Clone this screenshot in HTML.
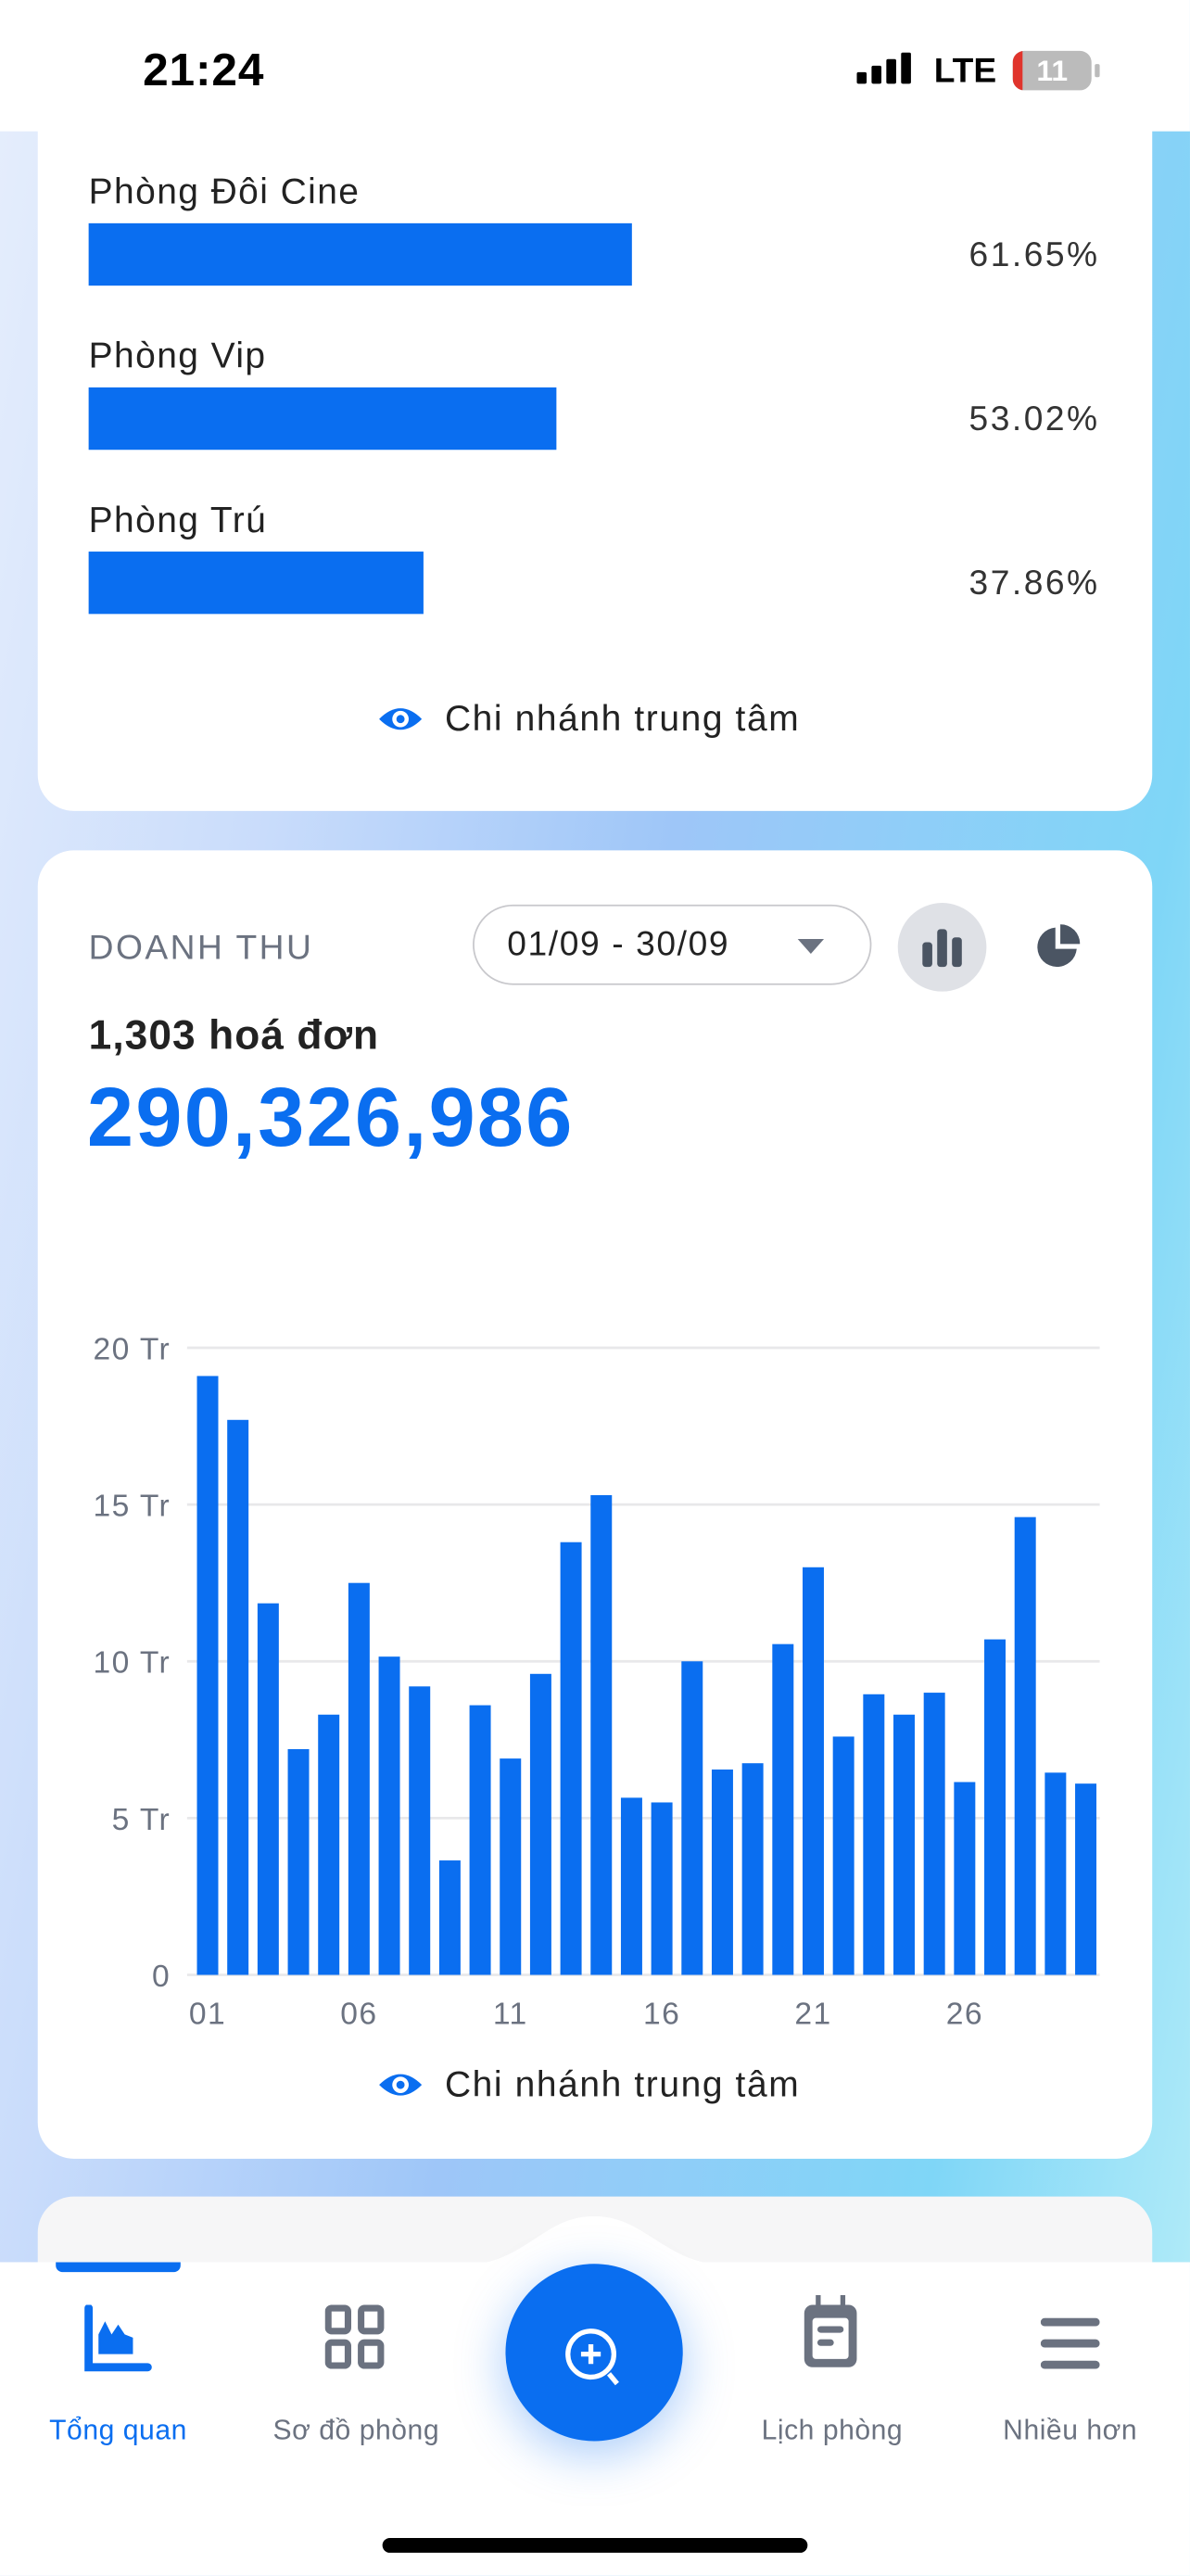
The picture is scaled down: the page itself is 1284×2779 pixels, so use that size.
<!DOCTYPE html>
<html><head><meta charset="utf-8">
<style>
html,body{margin:0;padding:0;width:1284px;height:2778px;overflow:hidden;background:#fff;}
#root{position:absolute;left:0;top:0;width:725px;height:1569px;transform:scale(1.771);transform-origin:0 0;font-family:"Liberation Sans",sans-serif;overflow:hidden;
background:linear-gradient(100deg,#e6eefc 0%,#c9dcfb 25%,#9ec6f8 50%,#7fd6f7 80%,#b8eef8 100%);}
.abs{position:absolute;}
.card{position:absolute;left:23px;width:679px;background:#fff;border-radius:22px;}
.lbl{font-size:22px;color:#222;letter-spacing:0.8px;}
.pct{font-size:21px;color:#333;right:32px;text-align:right;letter-spacing:1.4px;}
.bar{background:#0a6ef0;height:38px;left:31px;}
.nav-l{font-size:17px;color:#6b7280;text-align:center;width:140px;letter-spacing:0.3px;}
.leg{font-size:22px;color:#222;letter-spacing:0.9px;}
</style></head><body>
<div id="root">
  <div class="abs" style="left:0;top:0;width:725px;height:80px;background:#fff">
    <div class="abs" style="left:87px;top:27px;font-size:28px;font-weight:bold;color:#000;letter-spacing:0.5px">21:24</div>
    <div class="abs" style="left:522px;top:32px;width:38px;height:22px">
      <svg width="38" height="22"><g fill="#000"><rect x="0" y="12" width="6" height="7" rx="1"/><rect x="9" y="8" width="6" height="11" rx="1"/><rect x="18" y="4" width="6" height="15" rx="1"/><rect x="27" y="0" width="6" height="19" rx="1"/></g></svg>
    </div>
    <div class="abs" style="left:569px;top:32px;font-size:21px;font-weight:bold;color:#000">LTE</div>
    <div class="abs" style="left:617px;top:31px;width:48px;height:24px;border-radius:7px;background:#bbb;overflow:hidden">
      <div class="abs" style="left:0;top:0;width:6px;height:24px;background:#e0342c"></div>
      <div class="abs" style="left:0;top:2px;width:48px;text-align:center;font-size:18px;font-weight:bold;color:#fff">11</div>
    </div>
    <div class="abs" style="left:667px;top:39px;width:3px;height:8px;background:#bbb;border-radius:1px"></div>
  </div>

  <div class="card" style="top:58px;height:436px;z-index:0">
    <div class="abs lbl" style="left:31px;top:46px">Phòng Đôi Cine</div>
    <div class="abs bar" style="top:78px;width:331px"></div>
    <div class="abs pct" style="top:86px">61.65%</div>
    <div class="abs lbl" style="left:31px;top:146px">Phòng Vip</div>
    <div class="abs bar" style="top:178px;width:285px"></div>
    <div class="abs pct" style="top:186px">53.02%</div>
    <div class="abs lbl" style="left:31px;top:246px">Phòng Trú</div>
    <div class="abs bar" style="top:278px;width:204px"></div>
    <div class="abs pct" style="top:286px">37.86%</div>
    <div class="abs leg" style="left:207px;top:367px">
      <svg width="28" height="18" style="vertical-align:-2px;margin-right:13px"><path d="M1 9 Q14 -4 27 9 Q14 22 1 9Z" fill="#0a6ef0"/><circle cx="14" cy="9" r="5" fill="#fff"/><circle cx="14" cy="9" r="2.5" fill="#0a6ef0"/></svg>Chi nhánh trung tâm
    </div>
  </div>

  <div class="card" style="top:518px;height:797px">
    <div class="abs" style="left:31px;top:48px;font-size:21px;color:#6b7280;letter-spacing:1.4px">DOANH THU</div>
    <div class="abs" style="left:265px;top:33px;width:241px;height:47px;border:1.5px solid #c8c8cc;border-radius:25px">
      <div class="abs" style="left:20px;top:12px;font-size:21px;color:#222;letter-spacing:0.9px">01/09 - 30/09</div>
      <svg class="abs" style="left:196px;top:19px" width="18" height="11"><path d="M1 1 L17 1 L9 10Z" fill="#6b7280"/></svg>
    </div>
    <div class="abs" style="left:524px;top:32px;width:54px;height:54px;border-radius:27px;background:#dfe1e6">
      <svg class="abs" style="left:14px;top:14px" width="26" height="26"><g fill="#4b5563"><rect x="1" y="10" width="6" height="15" rx="2"/><rect x="10" y="2" width="6" height="23" rx="2"/><rect x="19" y="7" width="6" height="18" rx="2"/></g></svg>
    </div>
    <div class="abs" style="left:607px;top:45px;width:28px;height:28px">
      <svg width="28" height="28"><path d="M13 2 A12 12 0 1 0 26 15 L13 15Z" fill="#4b5563"/><path d="M16 0 A12 12 0 0 1 28 12 L16 12Z" fill="#4b5563"/></svg>
    </div>
    <div class="abs" style="left:31px;top:99px;font-size:25px;font-weight:bold;color:#222;letter-spacing:0.6px">1,303 hoá đơn</div>
    <div class="abs" style="left:30px;top:133px;font-size:51px;font-weight:bold;color:#0a6ef0;letter-spacing:1.2px">290,326,986</div>
    <svg class="abs" style="left:0;top:0" width="679" height="740" id="chart"></svg>
    <div class="abs leg" style="left:207px;top:739px">
      <svg width="28" height="18" style="vertical-align:-2px;margin-right:13px"><path d="M1 9 Q14 -4 27 9 Q14 22 1 9Z" fill="#0a6ef0"/><circle cx="14" cy="9" r="5" fill="#fff"/><circle cx="14" cy="9" r="2.5" fill="#0a6ef0"/></svg>Chi nhánh trung tâm
    </div>
  </div>

  <div class="card" style="top:1338px;height:200px;background:#f6f6f7"></div>

  <div class="abs" style="left:0;top:1378px;width:725px;height:191px;background:#fff">
    <svg class="abs" style="left:280px;top:-28px" width="165" height="30"><path d="M0 30 C40 30 50 0 82 0 C114 0 125 30 165 30Z" fill="#fff"/></svg>
    <div class="abs" style="left:34px;top:0;width:76px;height:6px;background:#0a6ef0;border-radius:0 0 4px 4px"></div>
    <div class="abs" style="left:2px;top:20px">
      <svg class="abs" style="left:48px;top:6px" width="44" height="44"><path d="M4 2 V38 H40" stroke="#0a6ef0" stroke-width="5" fill="none" stroke-linecap="round"/><path d="M10 30 V18 L14 10 L18 18 L22 12 L26 18 L31 20 V30Z" fill="#0a6ef0"/></svg>
      <div class="abs nav-l" style="left:0;top:73px;color:#0a6ef0">Tổng quan</div>
    </div>
    <div class="abs" style="left:147px;top:20px">
      <svg class="abs" style="left:51px;top:6px" width="38" height="40"><g fill="none" stroke="#6b7280" stroke-width="4"><rect x="2" y="2" width="12" height="14" rx="2"/><rect x="22" y="2" width="12" height="14" rx="2"/><rect x="2" y="23" width="12" height="14" rx="2"/><rect x="22" y="23" width="12" height="14" rx="2"/></g></svg>
      <div class="abs nav-l" style="left:0;top:73px">Sơ đồ phòng</div>
    </div>
    <div class="abs" style="left:308px;top:1px;width:108px;height:108px;border-radius:54px;background:#0a6ef0;box-shadow:0 8px 30px rgba(10,110,240,0.35)">
      <svg class="abs" style="left:32px;top:36px" width="46" height="46"><circle cx="20" cy="19" r="14" stroke="#fff" stroke-width="3" fill="none"/><path d="M20 13 V25 M14 19 H26" stroke="#fff" stroke-width="3"/><path d="M31 31 L36 37" stroke="#fff" stroke-width="3"/></svg>
    </div>
    <div class="abs" style="left:437px;top:20px">
      <svg class="abs" style="left:50px;top:0" width="40" height="50"><rect x="3" y="6" width="32" height="38" rx="5" fill="#6b7280"/><rect x="8" y="14" width="22" height="25" rx="2" fill="#fff"/><rect x="10" y="0" width="3" height="9" fill="#6b7280"/><rect x="25" y="0" width="3" height="9" fill="#6b7280"/><rect x="11" y="19" width="16" height="4" rx="2" fill="#6b7280"/><rect x="11" y="27" width="10" height="4" rx="2" fill="#6b7280"/></svg>
      <div class="abs nav-l" style="left:0;top:73px">Lịch phòng</div>
    </div>
    <div class="abs" style="left:582px;top:20px">
      <svg class="abs" style="left:52px;top:14px" width="36" height="32"><g fill="#6b7280"><rect x="0" y="0" width="36" height="5" rx="2.5"/><rect x="0" y="13" width="36" height="5" rx="2.5"/><rect x="0" y="26" width="36" height="5" rx="2.5"/></g></svg>
      <div class="abs nav-l" style="left:0;top:73px">Nhiều hơn</div>
    </div>
    <div class="abs" style="left:233px;top:168px;width:259px;height:9px;background:#000;border-radius:5px"></div>
  </div>
</div>
<script>
const days = ["01","02","03","04","05","06","07","08","09","10","11","12","13","14","15","16","17","18","19","20","21","22","23","24","25","26","27","28","29","30"];
const revenue = [19.1,17.7,11.85,7.2,8.3,12.5,10.15,9.2,3.65,8.6,6.9,9.6,13.8,15.3,5.65,5.5,10.0,6.55,6.75,10.55,13.0,7.6,8.95,8.3,9.0,6.15,10.7,14.6,6.45,6.1];
const yTicks = [0,5,10,15,20];
const yTickLabels = ["0","5 Tr","10 Tr","15 Tr","20 Tr"];
const xLabelDays = ["01","06","11","16","21","26"];

const svg = document.getElementById('chart');
const NS = 'http://www.w3.org/2000/svg';
const plotL = 91, plotR = 647, yTop = 303, yBot = 685, yMax = 20;
const y = v => yBot - (v / yMax) * (yBot - yTop);
const step = (plotR - plotL) / days.length;
const barW = step * 0.7;
const x = i => plotL + 6 + i * ((645 - 97 - barW) / (days.length - 1));

yTicks.forEach((t, k) => {
  const ln = document.createElementNS(NS, 'line');
  
  
  ln.setAttribute('x1', plotL); ln.setAttribute('x2', plotR);
  ln.setAttribute('y1', y(t)); ln.setAttribute('y2', y(t));
  ln.setAttribute('stroke', '#e8e8ea'); ln.setAttribute('stroke-width', '1.5');
  svg.appendChild(ln);
  const tx = document.createElementNS(NS, 'text');
  
  
  tx.setAttribute('x', 81); tx.setAttribute('y', y(t) + 7);
  tx.setAttribute('text-anchor', 'end'); tx.setAttribute('font-size', '19');
  tx.setAttribute('letter-spacing', '0.8');
  tx.setAttribute('fill', '#6b7280'); tx.setAttribute('font-family', 'Liberation Sans, sans-serif');
  tx.textContent = yTickLabels[k];
  svg.appendChild(tx);
});
revenue.forEach((v, i) => {
  const r = document.createElementNS(NS, 'rect');
  
  
  r.setAttribute('x', x(i)); r.setAttribute('width', barW);
  r.setAttribute('y', y(v)); r.setAttribute('height', yBot - y(v));
  r.setAttribute('fill', '#0a6ef0');
  svg.appendChild(r);
});
xLabelDays.forEach(d => {
  const i = days.indexOf(d);
  const tx = document.createElementNS(NS, 'text');
  
  
  tx.setAttribute('x', x(i) + barW / 2); tx.setAttribute('y', 715);
  tx.setAttribute('text-anchor', 'middle'); tx.setAttribute('font-size', '19');
  tx.setAttribute('letter-spacing', '0.8');
  tx.setAttribute('fill', '#6b7280'); tx.setAttribute('font-family', 'Liberation Sans, sans-serif');
  tx.textContent = d;
  svg.appendChild(tx);
});
</script>
</body></html>
